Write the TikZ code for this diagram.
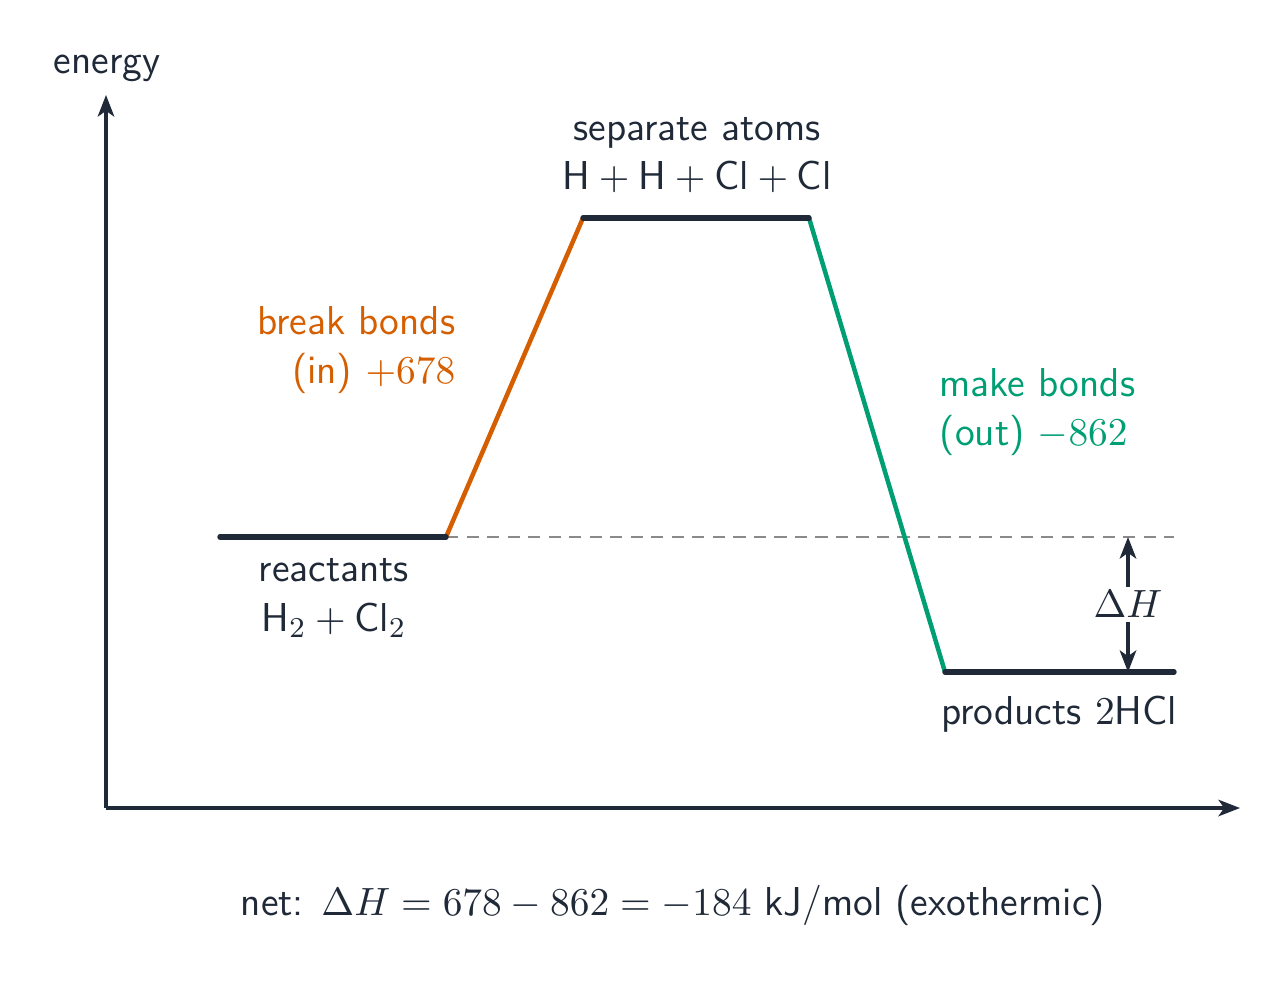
\documentclass[tikz,border=0pt]{standalone}
\usetikzlibrary{arrows.meta}
\definecolor{ink}{HTML}{1F2937}
\definecolor{brk}{HTML}{D55E00}
\definecolor{mk}{HTML}{009E73}
\definecolor{refgray}{HTML}{8A8A8A}
\begin{document}
\begin{tikzpicture}[x=0.2778pt,y=-0.2778pt,
  txt/.style={font=\sffamily\fontsize{11.2}{13.8}\selectfont, text=ink, inner sep=0pt},
  level/.style={ink, line width=1.5pt, line cap=round},
  axis/.style={ink, line width=0.9pt, -{Stealth[length=6pt,width=4.6pt,inset=1.6pt]}},
  leg/.style={line width=1.25pt, line cap=round}]
\useasboundingbox (0,0) rectangle (1285,980);
% axes
\coordinate (O) at (106,808);
\coordinate (ytop) at (106,95);
\coordinate (xend) at (1240,808);
\draw[axis] (O) -- (ytop);
\draw[axis] (O) -- (xend);
\node[txt] (energy) at (107,68) {energy};
% levels
\coordinate (r1) at (220,537);
\coordinate (r2) at (446,537);
\coordinate (t1) at (583,218);
\coordinate (t2) at (809,218);
\coordinate (p1) at (945,672);
\coordinate (p2) at (1174,672);
\coordinate (d2) at (1174,537);
\draw[refgray, line width=0.7pt, dash pattern=on 3.4pt off 2.3pt] (r2) -- (d2);
\draw[leg, brk] (r2) -- (t1);
\draw[leg, mk] (t2) -- (p1);
\draw[level] (r1) -- (r2);
\draw[level] (t1) -- (t2);
\draw[level] (p1) -- (p2);
% delta H
\coordinate (dh1) at (1128,537);
\coordinate (dh2) at (1128,672);
\draw[ink, line width=0.9pt, {Stealth[length=6pt,width=4.6pt,inset=1.6pt]}-{Stealth[length=6pt,width=4.6pt,inset=1.6pt]}] (dh1) -- (dh2)
  node[midway, fill=white, inner xsep=1pt, inner ysep=1pt, text=ink, font=\fontsize{11.2}{13}\selectfont] (dH) {$\Delta H$};
% labels
\node[txt, align=center] (sep) at (697,155) {separate atoms\\H${}+{}$H${}+{}$Cl${}+{}$Cl};
\node[txt, align=center] (react) at (334,598) {reactants\\H$_2+{}$Cl$_2$};
\node[txt, align=right, text=brk, anchor=east] (brkl) at (456,350) {break bonds\\(in) $+678$};
\node[txt, align=left, text=mk, anchor=west] (mkl) at (939,412) {make bonds\\(out) $-862$};
\node[txt] (prod) at (1059,714) {products $2$HCl};
\node[txt] (net) at (673,905) {net: $\Delta H=678-862=-184$ kJ/mol (exothermic)};
\end{tikzpicture}
\end{document}
